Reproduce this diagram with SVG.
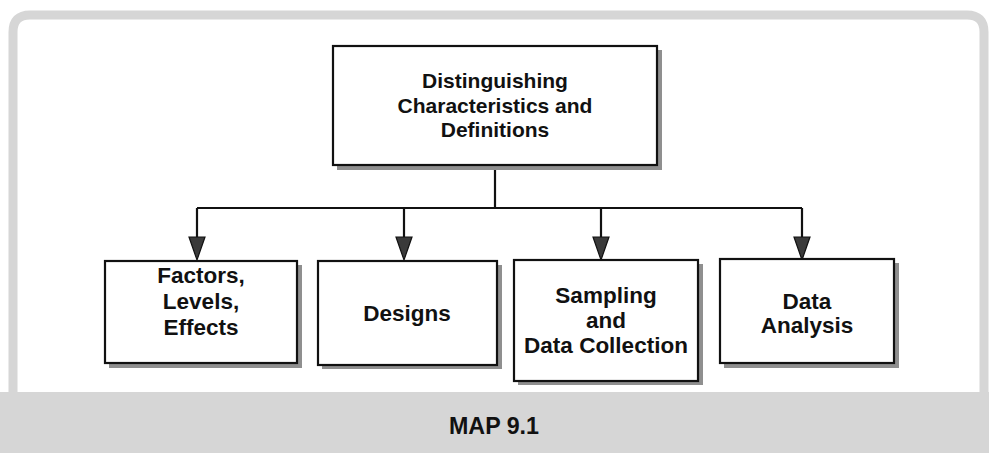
<svg xmlns="http://www.w3.org/2000/svg" width="989" height="453" viewBox="0 0 989 453">
<defs>
<style>
.box{fill:#fff;stroke:#111;stroke-width:2.2}
.shadow{fill:#8f8f8f}
.lbl{font-family:"Liberation Sans",Arial,Helvetica,sans-serif;font-weight:bold;font-size:22.5px;fill:#111;text-anchor:middle}
.top{font-size:21px}
.conn{fill:none;stroke:#111;stroke-width:2.2}
.head{fill:#3a3a3a;stroke:#111;stroke-width:1.2}
</style>
</defs>
<rect x="0" y="0" width="989" height="453" fill="#fff"/>
<path d="M13,452 V32 Q13,15 30,15 H967 Q984,15 984,32 V452" fill="none" stroke="#d6d6d6" stroke-width="9"/>
<rect x="0" y="392" width="989" height="61" fill="#d6d6d6"/>
<text x="494" y="434" font-family="'Liberation Sans',Arial,sans-serif" font-weight="bold" font-size="23" fill="#111" text-anchor="middle" textLength="90" lengthAdjust="spacingAndGlyphs">MAP 9.1</text>

<g id="connectors">
<path class="conn" d="M495,167 V208 M197,208 H802 M197,208 V238 M404,208 V238 M601,208 V238 M802,208 V238"/>
<polygon class="head" points="189,237 205,237 197,260"/>
<polygon class="head" points="396,237 412,237 404,260"/>
<polygon class="head" points="593,237 609,237 601,260"/>
<polygon class="head" points="794,237 810,237 802,260"/>
</g>

<g id="node-root">
<rect class="shadow" x="337" y="50" width="325" height="120"/>
<rect class="box" x="333" y="46" width="324" height="119"/>
<text class="lbl top" x="495" y="88">Distinguishing</text>
<text class="lbl top" x="495" y="113">Characteristics and</text>
<text class="lbl top" x="495" y="137">Definitions</text>
</g>

<g id="node-factors">
<rect class="shadow" x="109" y="265" width="193" height="103"/>
<rect class="box" x="105" y="261" width="192" height="102"/>
<text class="lbl" x="201" y="283">Factors,</text>
<text class="lbl" x="201" y="309">Levels,</text>
<text class="lbl" x="201" y="335">Effects</text>
</g>

<g id="node-designs">
<rect class="shadow" x="322" y="265" width="180" height="104"/>
<rect class="box" x="318" y="261" width="179" height="104"/>
<text class="lbl" x="407" y="321">Designs</text>
</g>

<g id="node-sampling">
<rect class="shadow" x="518" y="264" width="185" height="121"/>
<rect class="box" x="514" y="260" width="184" height="121"/>
<text class="lbl" x="606" y="303">Sampling</text>
<text class="lbl" x="606" y="328">and</text>
<text class="lbl" x="606" y="353">Data Collection</text>
</g>

<g id="node-analysis">
<rect class="shadow" x="724" y="263" width="175" height="105"/>
<rect class="box" x="720" y="259" width="174" height="104"/>
<text class="lbl" x="807" y="309">Data</text>
<text class="lbl" x="807" y="333">Analysis</text>
</g>
</svg>
